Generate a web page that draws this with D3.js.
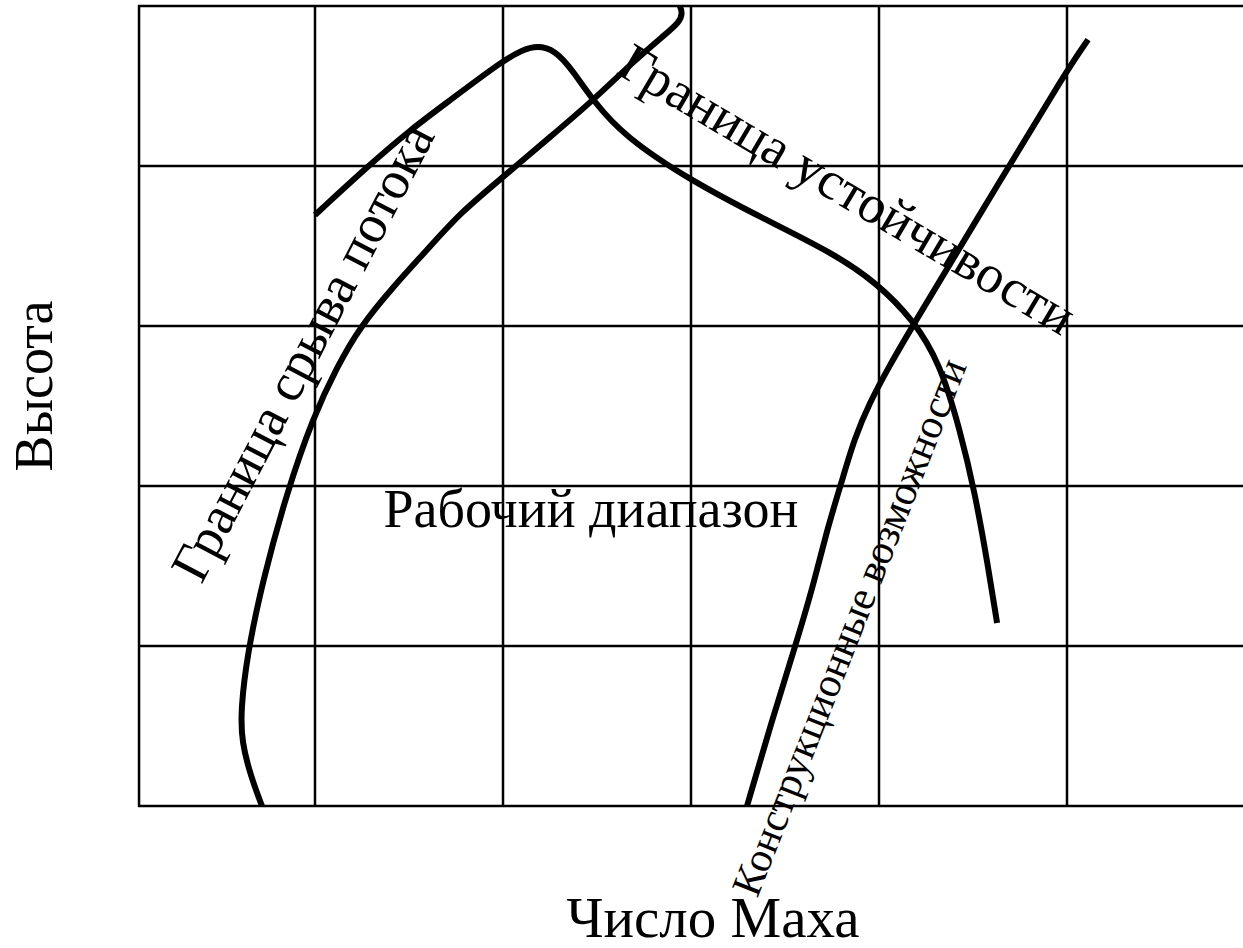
<!DOCTYPE html>
<html>
<head>
<meta charset="utf-8">
<script src="https://cdn.jsdelivr.net/npm/d3@7"></script>
<style>
  body { margin: 0; background: #fff; }
  svg { display: block; }
  text { font-family: "Liberation Serif", "Times New Roman", serif; fill: #000; }
</style>
</head>
<body>
<svg id="chart" width="1243" height="948"></svg>
<script>
// grid positions (Mach number, altitude in arbitrary units)
var xGrid = [1, 2, 3, 4, 5];
var yGrid = [0, 1, 2, 3, 4, 5];
var xLeft = 0.064;

// boundary curves
var stallBoundary = [
  [0.718, 0], [0.66, 0.18], [0.61, 0.4], [0.605, 0.6], [0.64, 0.95],
  [0.72, 1.4], [0.85, 1.96], [0.99, 2.43], [1.117, 2.744], [1.239, 2.994],
  [1.415, 3.244], [1.596, 3.475], [1.771, 3.706], [2.0, 3.931], [2.25, 4.181],
  [2.479, 4.41], [2.691, 4.65], [2.86, 4.82], [2.94, 4.9], [2.955, 4.96], [2.94, 5.0]
];
var stabilityBoundary = [
  [1.0, 3.694], [1.277, 3.994], [1.505, 4.225], [1.718, 4.41], [2.0, 4.66],
  [2.15, 4.76], [2.28, 4.73], [2.38, 4.58], [2.479, 4.41], [2.64, 4.19],
  [2.995, 3.91], [3.404, 3.66], [3.755, 3.456], [3.989, 3.269], [4.181, 3.04],
  [4.324, 2.769], [4.431, 2.35], [4.51, 1.96], [4.58, 1.5], [4.628, 1.144]
];
var designLimit = [
  [3.298, 0], [3.42, 0.494], [3.553, 0.994], [3.644, 1.35], [3.723, 1.725],
  [3.8, 2.02], [3.87, 2.3], [3.95, 2.52], [4.05, 2.74], [4.181, 3.006],
  [4.644, 3.906], [5.0, 4.6], [5.112, 4.79]
];

var curveLabels = [
  { text: "Граница срыва потока", x: 0.93, y: 2.84, angle: -62.5, size: 54 },
  { text: "Граница устойчивости", x: 3.835, y: 3.86, angle: 30.5, size: 54 },
  { text: "Конструкционные возможности", x: 3.838, y: 1.12, angle: -68.5, size: 42 }
];

var svg = d3.select("#chart");
var width = +svg.attr("width"),
    height = +svg.attr("height");

var x = d3.scaleLinear().domain([0, 6]).range([127, 1255]);
var y = d3.scaleLinear().domain([0, 5]).range([806, 6]);

// grid
var grid = svg.append("g")
  .attr("stroke", "#000")
  .attr("stroke-width", 2.5);

grid.selectAll(".vline")
  .data([xLeft].concat(xGrid))
  .enter().append("line")
    .attr("x1", function(d) { return x(d); })
    .attr("x2", function(d) { return x(d); })
    .attr("y1", y(0) + 1)
    .attr("y2", y(5) - 1);

grid.selectAll(".hline")
  .data(yGrid)
  .enter().append("line")
    .attr("x1", x(xLeft) - 1)
    .attr("x2", width)
    .attr("y1", function(d) { return y(d); })
    .attr("y2", function(d) { return y(d); });

// curves
var line = d3.line()
  .x(function(d) { return x(d[0]); })
  .y(function(d) { return y(d[1]); })
  .curve(d3.curveBasis);

svg.selectAll(".curve")
  .data([stallBoundary, stabilityBoundary, designLimit])
  .enter().append("path")
    .attr("class", "curve")
    .attr("d", line)
    .attr("fill", "none")
    .attr("stroke", "#000")
    .attr("stroke-width", 6)
    .attr("stroke-linecap", "butt");

// labels
svg.selectAll(".curve-label")
  .data(curveLabels)
  .enter().append("text")
    .attr("class", "curve-label")
    .attr("text-anchor", "middle")
    .attr("dy", "0.35em")
    .attr("font-size", function(d) { return d.size; })
    .attr("transform", function(d) {
      return "translate(" + x(d.x) + "," + y(d.y) + ") rotate(" + d.angle + ")";
    })
    .text(function(d) { return d.text; });

svg.append("text")
  .attr("x", x(2.468))
  .attr("y", y(1.744))
  .attr("text-anchor", "middle")
  .attr("font-size", 54)
  .text("Рабочий диапазон");

svg.append("text")
  .attr("x", 713)
  .attr("y", 937)
  .attr("text-anchor", "middle")
  .attr("font-size", 57)
  .text("Число Маха");

svg.append("text")
  .attr("transform", "translate(52,386) rotate(-90)")
  .attr("text-anchor", "middle")
  .attr("font-size", 54)
  .text("Высота");
</script>
</body>
</html>
